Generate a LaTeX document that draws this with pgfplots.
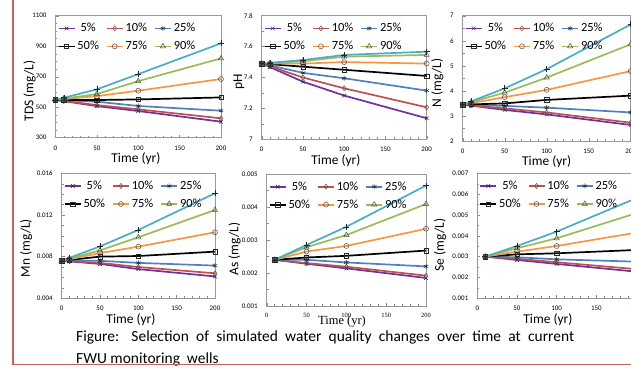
\documentclass[border=0pt]{standalone}
\usepackage{fontspec}
\setmainfont{Carlito}
\newfontfamily\serifnum{Liberation Serif}
\usepackage{pgfplots}
\usepackage{pgfplotstable}
\pgfplotsset{compat=1.18}

\definecolor{c5}{HTML}{7030A0}
\definecolor{c10}{HTML}{C0504D}
\definecolor{c25}{HTML}{4F81BD}
\definecolor{c50}{HTML}{000000}
\definecolor{c75}{HTML}{F79646}
\definecolor{c90}{HTML}{9BBB59}
\definecolor{c95}{HTML}{4BACC6}
\definecolor{redline}{RGB}{200,95,95}

\pgfplotstableread{
t p5 p10 p25 p50 p75 p90 p95
0 548 548 548 548 548 548 548
10 540 541 546 548 553 556 562
50 507 514 536 547 573 586 617
100 475 486 508 551 608 671 717
200 405 427 477 564 685 820 919
}\tds
\pgfplotstableread{
t p5 p10 p25 p50 p75 p90 p95
0 7.49 7.49 7.49 7.49 7.49 7.49 7.49
10 7.467 7.472 7.478 7.486 7.49 7.493 7.495
50 7.373 7.40 7.43 7.47 7.49 7.505 7.513
100 7.283 7.33 7.395 7.45 7.50 7.535 7.546
200 7.136 7.207 7.315 7.41 7.49 7.546 7.567
}\ph
\pgfplotstableread{
t p5 p10 p25 p50 p75 p90 p95
0 3.45 3.45 3.45 3.45 3.45 3.45 3.45
10 3.41 3.42 3.44 3.46 3.51 3.55 3.58
50 3.24 3.30 3.40 3.50 3.75 3.93 4.10
100 3.06 3.14 3.33 3.64 4.04 4.53 4.87
200 2.64 2.73 3.14 3.81 4.79 5.86 6.65
}\nit
\pgfplotstableread{
t p5 p10 p25 p50 p75 p90 p95
0 0.0076 0.0076 0.0076 0.0076 0.0076 0.0076 0.0076
10 0.00754 0.00756 0.0076 0.00768 0.00775 0.0078 0.00788
50 0.0073 0.0074 0.0076 0.0080 0.00834 0.0086 0.00898
100 0.0068 0.0070 0.0074 0.00806 0.00896 0.00986 0.01056
200 0.0061 0.0064 0.00714 0.00848 0.01034 0.01248 0.01408
}\mn
\pgfplotstableread{
t p5 p10 p25 p50 p75 p90 p95
10 0.0024 0.0024 0.0024 0.0024 0.0024 0.0024 0.0024
50 0.00228 0.0023 0.0024 0.00247 0.00265 0.00278 0.00285
100 0.00214 0.00219 0.00232 0.00252 0.00282 0.00315 0.0034
200 0.00185 0.00192 0.0022 0.00268 0.00334 0.00409 0.00465
}\as
\pgfplotstableread{
t p5 p10 p25 p50 p75 p90 p95
10 0.0030 0.0030 0.0030 0.0030 0.0030 0.0030 0.0030
50 0.00284 0.0029 0.00297 0.00311 0.00324 0.0034 0.00351
100 0.00265 0.00273 0.00287 0.00316 0.00351 0.00388 0.0042
200 0.00228 0.0024 0.00276 0.00332 0.00415 0.00508 0.0058
}\se

\pgfplotsset{
  s5/.style={color=c5, mark=x, mark size=2.6bp, mark options={draw=black!85, line width=0.5bp}},
  s10/.style={color=c10, mark=diamond, mark size=2.6bp, mark options={draw=black!65, fill=none, line width=0.5bp}},
  s25/.style={color=c25, mark=asterisk, mark size=2.6bp, mark options={draw=black!85, line width=0.5bp}},
  s50/.style={color=c50, mark=square, mark size=2.2bp, mark options={draw=black!85, fill=none, line width=0.5bp}},
  s75/.style={color=c75, mark=o, mark size=2.5bp, mark options={draw=black!70, fill=none, line width=0.5bp}},
  s90/.style={color=c90, mark=triangle, mark size=3bp, mark options={draw=black!70, fill=none, line width=0.5bp}},
  s95/.style={color=c95, mark=+, mark size=3bp, mark options={draw=black!85, line width=0.5bp}},
  panel/.style={
    scale only axis, xmin=0, xmax=200, xtick={0,50,100,150,200},
    minor x tick num=4, scaled y ticks=false,
    axis line style={black!40, line width=0.5bp},
    tick style={black!45, line width=0.4bp},
    major tick length=3bp, minor tick length=2bp, tick align=inside,
    xtick pos=bottom, ytick pos=left,
    /pgf/number format/assume math mode=true,
    /pgf/number format/1000 sep={},
    tick label style={font=\fontsize{7}{8}\selectfont},
    xticklabel style={anchor=base, yshift=-12.5bp},
    yticklabel style={xshift=-5.5bp},
    label style={font=\fontsize{13.5}{15}\selectfont},
    xlabel={Time (yr)},
    xlabel style={anchor=base, yshift=-25bp},
    ylabel style={anchor=base},
    clip=false,
    every axis plot/.append style={line width=1.7bp},
    legend columns=3,
    legend entries={5\%,10\%,25\%,50\%,75\%,90\%},
    legend image code/.code={\draw[mark repeat=2,mark phase=2,##1] plot coordinates {(0bp,0bp) (8bp,0bp) (16bp,0bp)};},
    legend style={at={(axis description cs:0,1)}, anchor=north west,
      xshift=1bp, yshift=-4.5bp, draw=none, fill=none,
      font=\fontsize{12.5}{13}\selectfont, row sep=4bp,
      inner sep=1bp,
      /tikz/every even column/.append style={column sep=5bp}},
  }
}
\newcommand{\allseries}[1]{%
  \addplot[s5] table[x=t,y=p5]{#1};
  \addplot[s10] table[x=t,y=p10]{#1};
  \addplot[s25] table[x=t,y=p25]{#1};
  \addplot[s50] table[x=t,y=p50]{#1};
  \addplot[s75] table[x=t,y=p75]{#1};
  \addplot[s90] table[x=t,y=p90]{#1};
  \addplot[s95, forget plot] table[x=t,y=p95]{#1};
}

\begin{document}
\begin{tikzpicture}
\path[use as bounding box] (0bp,0bp) rectangle (631bp,367bp);
\clip (0bp,0bp) rectangle (631bp,367bp);

% TDS
\begin{axis}[panel, at={(55.5bp,229.3bp)}, anchor=south west,
  width=165.5bp, height=122bp,
  ymin=300, ymax=1100, ytick={300,500,700,900,1100},
  yticklabels={300,500,700,900,1100}, minor y tick num=3,
  ylabel={TDS (mg/L)},
  ylabel style={at={(axis description cs:-0.134,0.383)}},
  xlabel style={at={(axis description cs:0.486,0)}}]
\allseries{\tds}
\end{axis}

% pH
\begin{axis}[panel, at={(261.7bp,227.7bp)}, anchor=south west,
  width=165bp, height=123.6bp,
  ymin=7, ymax=7.8, ytick={7,7.2,7.4,7.6,7.8}, yticklabels={7,7.2,7.4,7.6,7.8},
  minor y tick num=1,
  ylabel={pH},
  ylabel style={at={(axis description cs:-0.119,0.466)}},
  xlabel style={at={(axis description cs:0.45,0)}}]
\allseries{\ph}
\end{axis}

% N
\begin{axis}[panel, at={(462.7bp,226bp)}, anchor=south west,
  width=168bp, height=125.3bp,
  ymin=2, ymax=7, ytick={2,3,4,5,6,7}, minor y tick num=1,
  ylabel={N (mg/L)},
  ylabel style={at={(axis description cs:-0.129,0.463)}},
  xlabel style={at={(axis description cs:0.5,0)}}]
\allseries{\nit}
\end{axis}

% Mn
\begin{axis}[panel, at={(61.7bp,68.7bp)}, anchor=south west,
  width=153.3bp, height=125bp,
  ymin=0.004, ymax=0.016, ytick={0.004,0.008,0.012,0.016},
  yticklabels={0.004,0.008,0.012,0.016}, minor y tick num=3,
  ylabel={Mn (mg/L)},
  ylabel style={at={(axis description cs:-0.207,0.402)}},
  xlabel style={at={(axis description cs:0.452,0)}}]
\allseries{\mn}
\end{axis}

% As
\begin{axis}[panel, at={(266.7bp,61bp)}, anchor=south west,
  width=159.3bp, height=132bp,
  ymin=0.001, ymax=0.005, ytick={0.001,0.002,0.003,0.004,0.005},
  yticklabels={0.001,0.002,0.003,0.004,0.005}, minor y tick num=1,
  xticklabel style={font=\serifnum\fontsize{6.5}{8}\selectfont, yshift=0.5bp},
  ylabel={As (mg/L)},
  ylabel style={at={(axis description cs:-0.178,0.432)}},
  xlabel style={at={(axis description cs:0.473,0)}, font=\serifnum\fontsize{12.5}{14}\selectfont, yshift=6bp}]
\allseries{\as}
\end{axis}

% Se
\begin{axis}[panel, at={(477.3bp,68.7bp)}, anchor=south west,
  width=158.7bp, height=125bp,
  ymin=0.001, ymax=0.007, ytick={0.001,0.002,0.003,0.004,0.005,0.006,0.007},
  yticklabels={0.001,0.002,0.003,0.004,0.005,0.006,0.007}, minor y tick num=1,
  ylabel={Se (mg/L)},
  ylabel style={at={(axis description cs:-0.210,0.426)}},
  xlabel style={at={(axis description cs:0.445,0)}}]
\allseries{\se}
\end{axis}

% caption
\node[anchor=base west, inner sep=0pt, font=\fontsize{15.5}{18}\selectfont] at (76bp,25.5bp)
  {\makebox[498bp][s]{Figure: Selection of simulated water quality changes over time at current}};
\node[anchor=base west, inner sep=0pt, font=\fontsize{15.5}{18}\selectfont] at (76bp,3.5bp)
  {FWU monitoring\hspace{0.45em}wells};

% page border lines
\draw[redline, line width=1.2bp] (13bp,367bp) -- (13bp,2.7bp) -- (631bp,2.7bp);
\end{tikzpicture}
\end{document}
